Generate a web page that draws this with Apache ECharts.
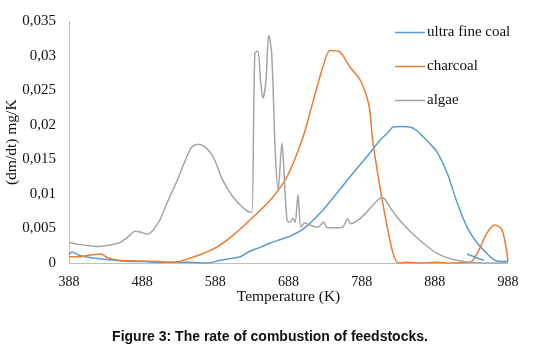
<!DOCTYPE html>
<html>
<head>
<meta charset="utf-8">
<script src="https://cdn.jsdelivr.net/npm/echarts@6/dist/echarts.min.js"></script>
<style>
  html, body { margin: 0; padding: 0; background: #fff; }
  #chart { width: 540px; height: 347px; }
</style>
</head>
<body>
<div id="chart"></div>
<script>
  // temperatures (K) and rates (mg/K)
  const coalTemp = [388, 392, 400, 410, 430, 460, 490, 520, 550, 577, 595, 612, 622, 635, 650, 663, 677, 690, 708, 731, 754, 776, 799, 813, 823, 831, 843, 854, 863, 872, 882, 891, 905, 918, 932, 946, 959, 970, 980, 988]
  const coalRate = [0.0012, 0.0016, 0.0012, 0.0009, 0.0006, 0.0003, 0.0002, 0.0001, 0.0001, 0, 0.0004, 0.0007, 0.0009, 0.0017, 0.0023, 0.0029, 0.0034, 0.0039, 0.0049, 0.0072, 0.0101, 0.0130, 0.0159, 0.0178, 0.0188, 0.0197, 0.0198, 0.0197, 0.0192, 0.0183, 0.0172, 0.0161, 0.0130, 0.0089, 0.0052, 0.0029, 0.0014, 0.0004, 0.0002, 0.0003]
  // short stray piece of the coal curve near the end
  const coalTailTemp = [932, 944, 955]
  const coalTailRate = [0.0013, 0.0008, 0.0004]

  const charTemp = [388, 400, 420, 432, 440, 455, 480, 510, 530, 545, 553, 567, 590, 612, 635, 663, 686, 708, 721, 735, 745, 758, 772, 786, 795, 799, 803, 813, 823, 831, 838, 850, 870, 890, 910, 936, 946, 959, 970, 980, 988]
  const charRate = [0.0009, 0.0009, 0.0012, 0.0013, 0.0008, 0.0004, 0.0003, 0.0002, 0.0001, 0.0004, 0.0007, 0.0012, 0.0023, 0.0040, 0.0062, 0.0091, 0.0125, 0.0183, 0.0232, 0.0284, 0.0308, 0.0306, 0.0284, 0.0265, 0.0241, 0.0222, 0.0178, 0.0110, 0.0052, 0.0014, 0, 0.0001, 0, 0.0001, 0, 0.0001, 0.0014, 0.0043, 0.0055, 0.0048, 0.0002]

  const algaeTemp = [388, 400, 417, 430, 444, 458, 471, 478, 485, 495, 503, 512, 522, 536, 549, 556, 564, 574, 585, 598, 612, 626, 635, 638, 642, 646, 650, 653, 657, 661, 665, 670, 674, 679, 681, 686, 690, 694, 697, 701, 705, 710, 717, 728, 736, 741, 754, 762, 769, 773, 783, 795, 806, 816, 820, 831, 840, 854, 872, 891, 913, 936, 963, 988]
  const algaeRate = [0.0030, 0.0027, 0.0025, 0.0024, 0.0026, 0.0030, 0.0040, 0.0046, 0.0045, 0.0042, 0.0048, 0.0062, 0.0087, 0.0120, 0.0154, 0.0168, 0.0172, 0.0168, 0.0154, 0.0120, 0.0096, 0.0080, 0.0074, 0.0074, 0.0304, 0.0307, 0.0262, 0.0239, 0.0262, 0.0330, 0.0304, 0.0159, 0.0106, 0.0174, 0.0149, 0.0062, 0.0059, 0.0065, 0.0059, 0.0099, 0.0052, 0.0058, 0.0055, 0.0052, 0.0059, 0.0051, 0.0051, 0.0052, 0.0064, 0.0057, 0.0062, 0.0074, 0.0087, 0.0095, 0.0092, 0.0074, 0.0062, 0.0046, 0.0029, 0.0014, 0.0005, 0.0001, 0, 0]

  const seriesNames = ['ultra fine coal', 'charcoal', 'algae']
  const colors = ['#5B9BD5', '#ED7D31', '#A5A5A5']

  const pairs = (xs, ys) => xs.map((x, i) => [x, ys[i]])
  const serif = '"Liberation Serif", "Times New Roman", serif'

  const lineSeries = (name, color, data) => ({
    name: name,
    type: 'line',
    symbol: 'none',
    smooth: 0.3,
    lineStyle: { color: color, width: 1.5 },
    itemStyle: { color: color },
    data: data,
  })

  const chart = echarts.init(document.getElementById('chart'))
  const option = {
    animation: false,
    title: {
      text: 'Figure 3: The rate of combustion of feedstocks.',
      left: 'center',
      top: 330,
      padding: 0,
      textStyle: {
        fontFamily: '"Liberation Sans", Arial, sans-serif',
        fontSize: 14,
        fontWeight: 'bold',
        color: '#111',
      },
    },
    legend: {
      data: seriesNames,
      orient: 'vertical',
      left: 395,
      top: 25,
      padding: 0,
      icon: 'rect',
      itemWidth: 30,
      itemHeight: 1.5,
      itemGap: 19,
      textStyle: { fontFamily: serif, fontSize: 15, color: '#111', padding: [0, 0, 0, -3] },
    },
    grid: {
      left: 69,
      right: 32,
      top: 21.5,
      bottom: 84,
      containLabel: false,
      outerBoundsMode: 'none',
    },
    xAxis: {
      type: 'value',
      min: 388,
      max: 988,
      interval: 100,
      name: 'Temperature (K)',
      nameLocation: 'middle',
      nameGap: 26,
      nameMoveOverlap: false,
      nameTextStyle: { fontFamily: serif, fontSize: 15.5, color: '#111' },
      axisLine: { lineStyle: { color: '#BFBFBF', width: 1 } },
      axisTick: { show: false },
      splitLine: { show: false },
      axisLabel: {
        fontFamily: serif,
        fontSize: 14,
        color: '#111',
        margin: 12,
      },
    },
    yAxis: {
      type: 'value',
      min: 0,
      max: 0.035,
      interval: 0.005,
      name: '(dm/dt) mg/K',
      nameLocation: 'middle',
      nameGap: 49,
      nameMoveOverlap: false,
      nameTextStyle: { fontFamily: serif, fontSize: 15.5, color: '#111' },
      axisLine: { show: true, lineStyle: { color: '#BFBFBF', width: 1 } },
      axisTick: { show: false },
      splitLine: { show: false },
      axisLabel: {
        fontFamily: serif,
        fontSize: 15,
        color: '#111',
        margin: 13,
        formatter: (v) => String(+v.toFixed(3)).replace('.', ','),
      },
    },
    series: [
      lineSeries(seriesNames[0], colors[0], pairs(coalTemp, coalRate)),
      lineSeries(seriesNames[1], colors[1], pairs(charTemp, charRate)),
      lineSeries(seriesNames[2], colors[2], pairs(algaeTemp, algaeRate)),
      lineSeries('coal tail', colors[0], pairs(coalTailTemp, coalTailRate)),
    ],
  }
  chart.setOption(option)
  window.addEventListener('resize', () => chart.resize())
</script>
</body>
</html>
